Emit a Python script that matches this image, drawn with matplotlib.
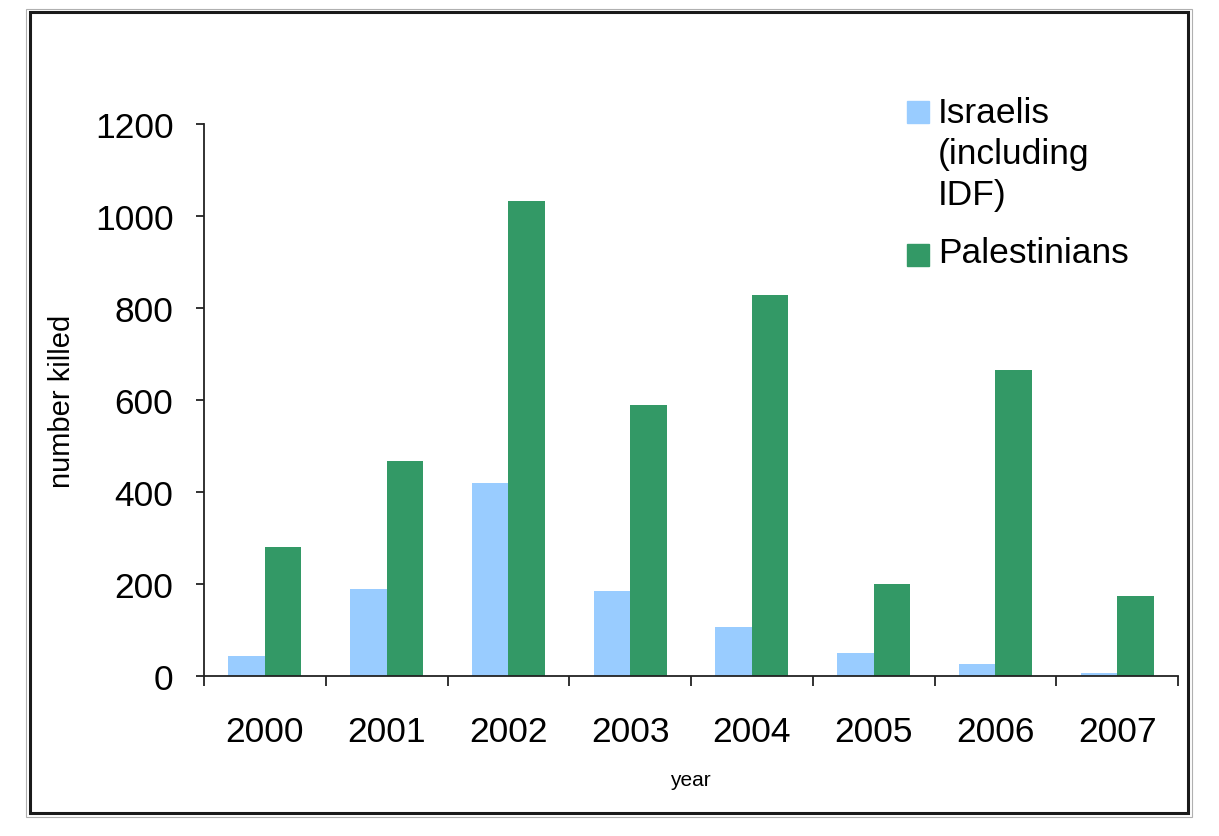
import numpy as np
import matplotlib
matplotlib.use("Agg")
import matplotlib.pyplot as plt
from matplotlib.patches import Rectangle

plt.rcParams['font.family'] = ['Liberation Sans', 'DejaVu Sans']

# data
years = ['2000', '2001', '2002', '2003', '2004', '2005', '2006', '2007']
israelis = [43, 189, 420, 185, 107, 50, 26, 7]
palestinians = [280, 467, 1033, 589, 828, 200, 665, 174]

W, H = 1219, 837
fig = plt.figure(figsize=(W / 100, H / 100), dpi=100)

def fx(px):
    return px / W

def fy(py):
    return 1 - py / H

ax = fig.add_axes([fx(204), fy(677), fx(1178) - fx(204), fy(125) - fy(677)])

x = np.arange(len(years))
bw = 0.3
ax.bar(x - bw / 2, israelis, bw, color='#99CCFF', zorder=2)
ax.bar(x + bw / 2, palestinians, bw, color='#339966', zorder=2)

ax.set_xlim(-0.5, len(years) - 0.5)
ax.set_ylim(0, 1200)
ax.set_yticks(range(0, 1201, 200))
ax.set_xticks(x)
ax.set_xticklabels(years)
ax.set_xticks(np.arange(-0.5, len(years)), minor=True)

ax.tick_params(axis='y', direction='out', length=6, width=1.3, labelsize=25.5, pad=16, color='#222222')
ax.tick_params(axis='x', which='major', length=0, labelsize=25.5, pad=28)
ax.tick_params(axis='x', which='minor', direction='out', length=7.5, width=1.3, color='#222222')

for s in ['top', 'right']:
    ax.spines[s].set_visible(False)
for s in ['left', 'bottom']:
    ax.spines[s].set_linewidth(1.3)
    ax.spines[s].set_color('#222222')

ax.set_ylabel('number killed', fontsize=21)
ax.yaxis.set_label_coords(-0.131, 0.5)
ax.set_xlabel('year', fontsize=15)
ax.xaxis.set_label_coords(0.499, -0.170)

# legend drawn by hand
fig.patches.append(Rectangle((fx(907), fy(124)), fx(22), fy(102) - fy(124),
                             transform=fig.transFigure, color='#99CCFF'))
fig.patches.append(Rectangle((fx(907), fy(267)), fx(22), fy(245) - fy(267),
                             transform=fig.transFigure, color='#339966'))
fig.text(fx(938), fy(97), 'Israelis\n(including\nIDF)', fontsize=25.5, va='top',
         ha='left', linespacing=1.3)
fig.text(fx(938), fy(237), 'Palestinians', fontsize=25.5, va='top', ha='left')

# chart frame
fig.patches.append(Rectangle((fx(26), fy(818)), fx(1192 - 26), fy(10) - fy(818),
                             transform=fig.transFigure, fill=False,
                             edgecolor='#b0b0b0', linewidth=0.8))
fig.patches.append(Rectangle((fx(30), fy(814)), fx(1188 - 30), fy(13) - fy(814),
                             transform=fig.transFigure, fill=False,
                             edgecolor='#1a1a1a', linewidth=2.2))

fig.savefig('out.png', dpi=100)
